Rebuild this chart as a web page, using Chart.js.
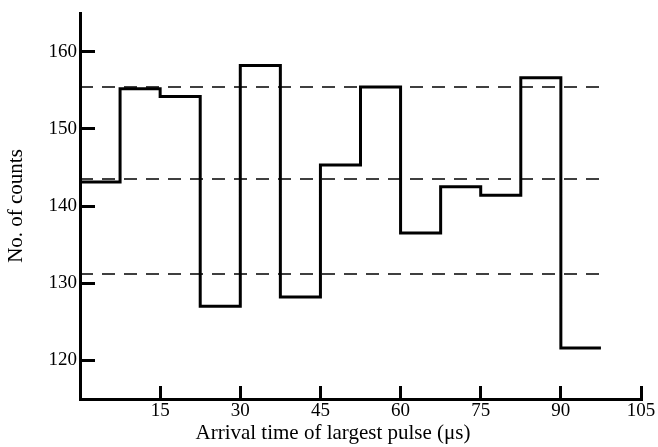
<!DOCTYPE html>
<html><head><meta charset="utf-8">
<script src="https://cdn.jsdelivr.net/npm/chart.js@4"></script>
<style>html,body{margin:0;padding:0;background:#fff}#wrap{width:658px;height:447px}</style>
</head><body><div id="wrap"><canvas id="c" width="658" height="447"></canvas></div>
<script>
// Histogram bin edges (µs) and counts per bin
const binEdges = [0, 7.5, 15, 22.5, 30, 37.5, 45, 52.5, 60, 67.5, 75, 82.5, 90, 97.5];
const counts = [143.1, 155.2, 154.2, 127.0, 158.2, 128.2, 145.3, 155.4, 136.5, 142.5, 141.4, 156.6, 121.6];
// Dashed reference levels
const refLevels = [155.4, 143.5, 131.2];
// Tick labels
const xTicks = [15, 30, 45, 60, 75, 90, 105];
const yTicks = [120, 130, 140, 150, 160];
const xTitle = 'Arrival time of largest pulse (\u03bcs)';
const yTitle = 'No. of counts';

const stepPoints = binEdges.map((e, i) => ({ x: e, y: counts[Math.min(i, counts.length - 1)] }));
const xStart = binEdges[0], xEnd = binEdges[binEdges.length - 1];

const datasets = [{
  data: stepPoints, stepped: 'before', borderColor: '#000', borderWidth: 3,
  pointRadius: 0, fill: false, order: 0, borderJoinStyle: 'miter', borderCapStyle: 'butt'
}];
refLevels.forEach(v => datasets.push({
  data: [{ x: xStart, y: v }, { x: xEnd, y: v }], borderColor: '#000', borderWidth: 1.5,
  borderDash: [13, 9], pointRadius: 0, fill: false, order: 1
}));

const xTitlePlugin = {
  id: 'xTitle',
  afterDraw(chart) {
    const ctx = chart.ctx, a = chart.chartArea;
    ctx.save();
    ctx.font = '21px "Liberation Serif"';
    ctx.fillStyle = '#000';
    ctx.textAlign = 'center';
    ctx.textBaseline = 'alphabetic';
    ctx.fillText(xTitle, a.left + 253, a.bottom + 40);
    ctx.restore();
  }
};

const tickFont = { family: 'Liberation Serif', size: 19 };

new Chart(document.getElementById('c'), {
  type: 'line',
  data: { datasets },
  plugins: [xTitlePlugin],
  options: {
    responsive: false, animation: false, devicePixelRatio: 1,
    layout: { padding: { top: 13, right: 17, left: 0, bottom: 0 } },
    plugins: { legend: { display: false }, tooltip: { enabled: false } },
    scales: {
      x: {
        type: 'linear', min: 0, max: 105,
        afterBuildTicks: s => { s.ticks = xTicks.map(v => ({ value: v })); },
        afterFit: s => { s.height = 48; s.paddingLeft = 0; s.paddingRight = 0; },
        grid: { drawOnChartArea: false, drawTicks: true, tickLength: -13, lineWidth: 3, color: '#000' },
        border: { display: true, width: 3, color: '#000' },
        ticks: { color: '#000', font: tickFont, padding: 14, maxRotation: 0, autoSkip: false }
      },
      y: {
        type: 'linear', min: 115, max: 165,
        afterBuildTicks: s => { s.ticks = yTicks.map(v => ({ value: v })); },
        afterFit: s => { s.width = 80; s.paddingTop = 0; s.paddingBottom = 0; },
        grid: { drawOnChartArea: false, drawTicks: true, tickLength: -15, lineWidth: 3, color: '#000' },
        border: { display: true, width: 3, color: '#000' },
        ticks: { color: '#000', font: tickFont, padding: 18, autoSkip: false },
        title: { display: true, text: yTitle, color: '#000', font: { family: 'Liberation Serif', size: 21 }, padding: { top: 4, bottom: 0 } }
      }
    }
  }
});
</script></body></html>
